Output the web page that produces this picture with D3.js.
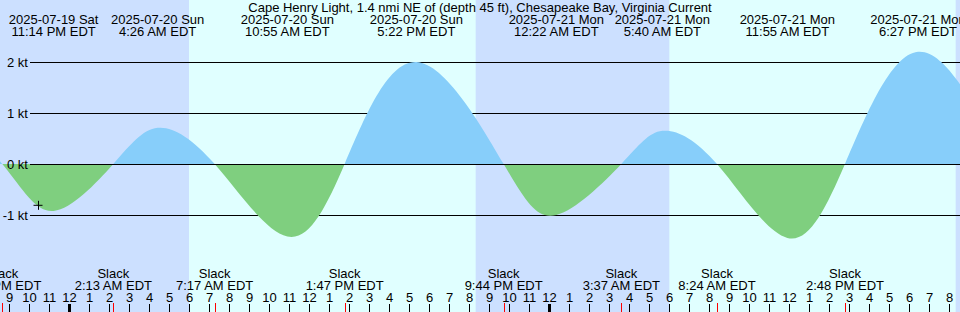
<!DOCTYPE html>
<html lang="en">
<head>
	<meta charset="utf-8">
	<title>Cape Henry Light Current</title>
	<script type="text/javascript" src="https://cdn.jsdelivr.net/npm/d3@7"></script>
	<style type="text/css">
		body { margin: 0; }
		svg { display: block; }
		text { font-family: "Liberation Sans", Arial, sans-serif; font-size: 13px; fill: #000; }
	</style>
</head>
<body>
<script type="text/javascript">
		// chart title
		var title = "Cape Henry Light, 1.4 nmi NE of (depth 45 ft), Chesapeake Bay, Virginia Current";

		// max flood / max ebb times and speeds (kt)
		var maxTimes = ["2025-07-19 23:14", "2025-07-20 04:26", "2025-07-20 10:55", "2025-07-20 17:22",
			"2025-07-21 00:22", "2025-07-21 05:40", "2025-07-21 11:55", "2025-07-21 18:27"];
		var maxValues = [-0.92, 0.71, -1.42, 2.0, -1.0, 0.65, -1.45, 2.2];

		// slack water times
		var slackTimes = ["2025-07-19 20:40", "2025-07-20 02:13", "2025-07-20 07:17", "2025-07-20 13:47",
			"2025-07-20 21:44", "2025-07-21 03:37", "2025-07-21 08:24", "2025-07-21 14:48"];

		// events just outside the window so the curve runs to the edges (estimated)
		var edgeTimes = ["2025-07-19 16:20", "2025-07-21 22:50"];
		var edgeValues = [1.8, 0];

		// sunrise / sunset
		var sunrise = ["2025-07-20 06:00", "2025-07-21 06:01"];
		var sunset = ["2025-07-19 20:21", "2025-07-20 20:20", "2025-07-21 20:20"];

		// "now" marker
		var nowTime = "2025-07-19 22:27";
		var nowValue = -0.8;

		// y axis ticks
		var yTicks = [2, 1, 0, -1];

		var w = 960;
		var h = 312;
		var parse = d3.timeParse("%Y-%m-%d %H:%M");
		var fmtDate = d3.timeFormat("%Y-%m-%d %a");
		var fmtTime = d3.timeFormat("%-I:%M %p EDT");
		var fmtHour = d3.timeFormat("%-I");

		var t0 = parse("2025-07-19 20:33");
		var t1 = parse("2025-07-21 20:33");

		var xScale = d3.scaleTime()
			.domain([t0, t1])
			.range([0, w]);
		var yScale = d3.scaleLinear()
			.domain([-1, 2])
			.range([215, 62]);

		// build the curve points
		var points = [];
		maxTimes.forEach(function(d, i){ points.push({t: parse(d), v: maxValues[i]}) });
		slackTimes.forEach(function(d){ points.push({t: parse(d), v: 0}) });
		edgeTimes.forEach(function(d, i){ points.push({t: parse(d), v: edgeValues[i]}) });
		points.sort(function(a, b){ return a.t - b.t });

		var svg = d3.select("body")
			.append("svg")
			.attr("width", w)
			.attr("height", h);

		// background: night then day bands
		svg.append("rect")
			.attr("x", 0).attr("y", 0)
			.attr("width", w).attr("height", h)
			.attr("fill", "#cce0ff");
		svg.selectAll("rect.day")
			.data(sunrise)
			.enter()
			.append("rect")
			.attr("class", "day")
			.attr("x", function(d){ return xScale(parse(d)) })
			.attr("y", 0)
			.attr("width", function(d, i){ return xScale(parse(sunset[i + 1])) - xScale(parse(d)) })
			.attr("height", h)
			.attr("fill", "#e0ffff");

		// grid lines (not zero)
		svg.selectAll("line.grid")
			.data(yTicks.filter(function(d){ return d != 0 }))
			.enter()
			.append("line")
			.attr("class", "grid")
			.attr("x1", 30).attr("x2", w)
			.attr("y1", function(d){ return Math.round(yScale(d)) + 0.5 })
			.attr("y2", function(d){ return Math.round(yScale(d)) + 0.5 })
			.attr("stroke", "#000");

		// clips above and below zero
		var y0 = yScale(0);
		var defs = svg.append("defs");
		defs.append("clipPath").attr("id", "above")
			.append("rect").attr("x", 0).attr("y", 0).attr("width", w).attr("height", y0);
		defs.append("clipPath").attr("id", "below")
			.append("rect").attr("x", 0).attr("y", y0).attr("width", w).attr("height", h - y0);

		var area = d3.area()
			.x(function(d){ return xScale(d.t) })
			.y0(y0)
			.y1(function(d){ return yScale(d.v) })
			.curve(d3.curveNatural);

		svg.append("path")
			.datum(points)
			.attr("d", area)
			.attr("fill", "#87cefa")
			.attr("clip-path", "url(#above)");
		svg.append("path")
			.datum(points)
			.attr("d", area)
			.attr("fill", "#7fcf7f")
			.attr("clip-path", "url(#below)");

		// zero line on top
		svg.append("line")
			.attr("x1", 30).attr("x2", w)
			.attr("y1", Math.round(y0) + 0.5)
			.attr("y2", Math.round(y0) + 0.5)
			.attr("stroke", "#000");

		// y labels
		svg.selectAll("text.ylab")
			.data(yTicks)
			.enter()
			.append("text")
			.attr("class", "ylab")
			.attr("x", 28)
			.attr("y", function(d){ return yScale(d) + 4.5 })
			.attr("text-anchor", "end")
			.text(function(d){ return d + " kt" });

		// now marker
		var nx = xScale(parse(nowTime));
		var ny = yScale(nowValue);
		svg.append("path")
			.attr("d", "M" + (nx - 4.5) + "," + (ny + 0.5) + "H" + (nx + 4.5) + "M" + (nx + 0.5) + "," + (ny - 4) + "V" + (ny + 5))
			.attr("stroke", "#000")
			.attr("fill", "none");

		// title
		svg.append("text")
			.attr("x", w / 2)
			.attr("y", 12)
			.attr("text-anchor", "middle")
			.text(title);

		// max labels on top
		var maxLab = svg.selectAll("g.max")
			.data(maxTimes)
			.enter()
			.append("g")
			.attr("class", "max");
		maxLab.append("text")
			.attr("x", function(d){ return xScale(parse(d)) })
			.attr("y", 24)
			.attr("text-anchor", "middle")
			.text(function(d){ return fmtDate(parse(d)) });
		maxLab.append("text")
			.attr("x", function(d){ return xScale(parse(d)) })
			.attr("y", 36)
			.attr("text-anchor", "middle")
			.text(function(d){ return fmtTime(parse(d)) });

		// slack labels at bottom
		var slackLab = svg.selectAll("g.slack")
			.data(slackTimes)
			.enter()
			.append("g")
			.attr("class", "slack");
		slackLab.append("text")
			.attr("x", function(d){ return xScale(parse(d)) })
			.attr("y", 278)
			.attr("text-anchor", "middle")
			.text("Slack");
		slackLab.append("text")
			.attr("x", function(d){ return xScale(parse(d)) })
			.attr("y", 290)
			.attr("text-anchor", "middle")
			.text(function(d){ return fmtTime(parse(d)) });

		// hour ticks
		var hours = d3.timeHour.range(t0, t1);
		svg.selectAll("line.hour")
			.data(hours)
			.enter()
			.append("line")
			.attr("class", "hour")
			.attr("x1", function(d){ return Math.round(xScale(d)) + 0.5 })
			.attr("x2", function(d){ return Math.round(xScale(d)) + 0.5 })
			.attr("y1", 304).attr("y2", h)
			.attr("stroke", "#000")
			.attr("stroke-width", function(d){ return d.getHours() == 0 ? 3 : 1 });
		svg.selectAll("text.hour")
			.data(hours)
			.enter()
			.append("text")
			.attr("class", "hour")
			.attr("x", function(d){ return xScale(d) + 0.5 })
			.attr("y", 302)
			.attr("text-anchor", "middle")
			.text(function(d){ return fmtHour(d) });

		// red slack ticks
		svg.selectAll("line.slack")
			.data(slackTimes)
			.enter()
			.append("line")
			.attr("class", "slack")
			.attr("x1", function(d){ return Math.round(xScale(parse(d))) + 0.5 })
			.attr("x2", function(d){ return Math.round(xScale(parse(d))) + 0.5 })
			.attr("y1", 303).attr("y2", h)
			.attr("stroke", "#ff0000");
</script>
</body>
</html>
